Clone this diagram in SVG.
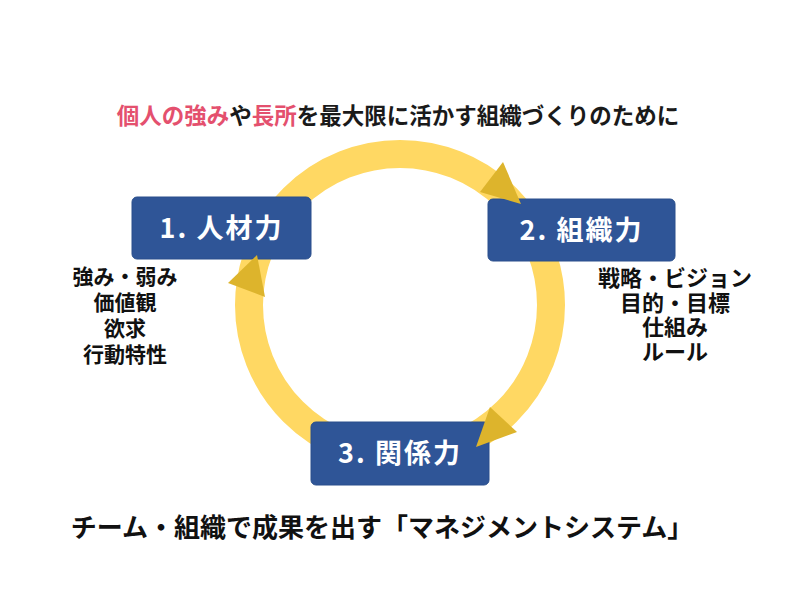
<svg xmlns="http://www.w3.org/2000/svg" width="800" height="600" viewBox="0 0 800 600">
<style>
text{font-family:"Noto Sans CJK JP","Noto Sans",sans-serif;font-weight:bold;}
.title{font-size:22.5px;fill:#1a1a1a;}
.pink{fill:#E4506E;}
.box{fill:#2F5597;stroke:#2A4F8C;stroke-width:1;}
.boxlabel{font-size:27px;fill:#ffffff;text-anchor:middle;letter-spacing:2px;}
.list{fill:#111111;text-anchor:middle;}
.ring{fill:none;stroke:#FFD863;stroke-width:28;}
.head{fill:#DDB42C;}
.footer{font-size:26px;fill:#111111;text-anchor:middle;}
</style>
<rect width="800" height="600" fill="#ffffff"/>
<text id="title" class="title" x="398" y="124" text-anchor="middle"><tspan class="pink">個人の強み</tspan>や<tspan class="pink">長所</tspan>を最大限に活かす組織づくりのために</text>
<g id="ring">
<circle class="ring" cx="400" cy="305" r="151"/>
</g>
<g id="node1">
<rect class="box" x="132" y="197" width="179" height="62" rx="5"/>
<text class="boxlabel" x="221.5" y="238">1. 人材力</text>
</g>
<g id="node2">
<rect class="box" x="488" y="199" width="187" height="62" rx="5"/>
<text class="boxlabel" x="581.5" y="240">2. 組織力</text>
</g>
<g id="node3">
<rect class="box" x="311" y="422" width="178" height="63" rx="5"/>
<text class="boxlabel" x="400" y="463">3. 関係力</text>
</g>
<g id="connectors">
<polygon class="head" points="503,162 480,192 521,204"/>
<polygon class="head" points="490,407 517,432 476,447"/>
<polygon class="head" points="228,283 265,297 257,255"/>
</g>
<g id="list1" class="list" font-size="21">
<text x="125" y="284">強み・弱み</text>
<text x="125" y="310">価値観</text>
<text x="125" y="336">欲求</text>
<text x="125" y="362">行動特性</text>
</g>
<g id="list2" class="list" font-size="22">
<text x="675" y="286">戦略・ビジョン</text>
<text x="675" y="311">目的・目標</text>
<text x="675" y="335">仕組み</text>
<text x="675" y="360">ルール</text>
</g>
<text id="footer" class="footer" x="382" y="537">チーム・組織で成果を出す「マネジメントシステム」</text>
</svg>
